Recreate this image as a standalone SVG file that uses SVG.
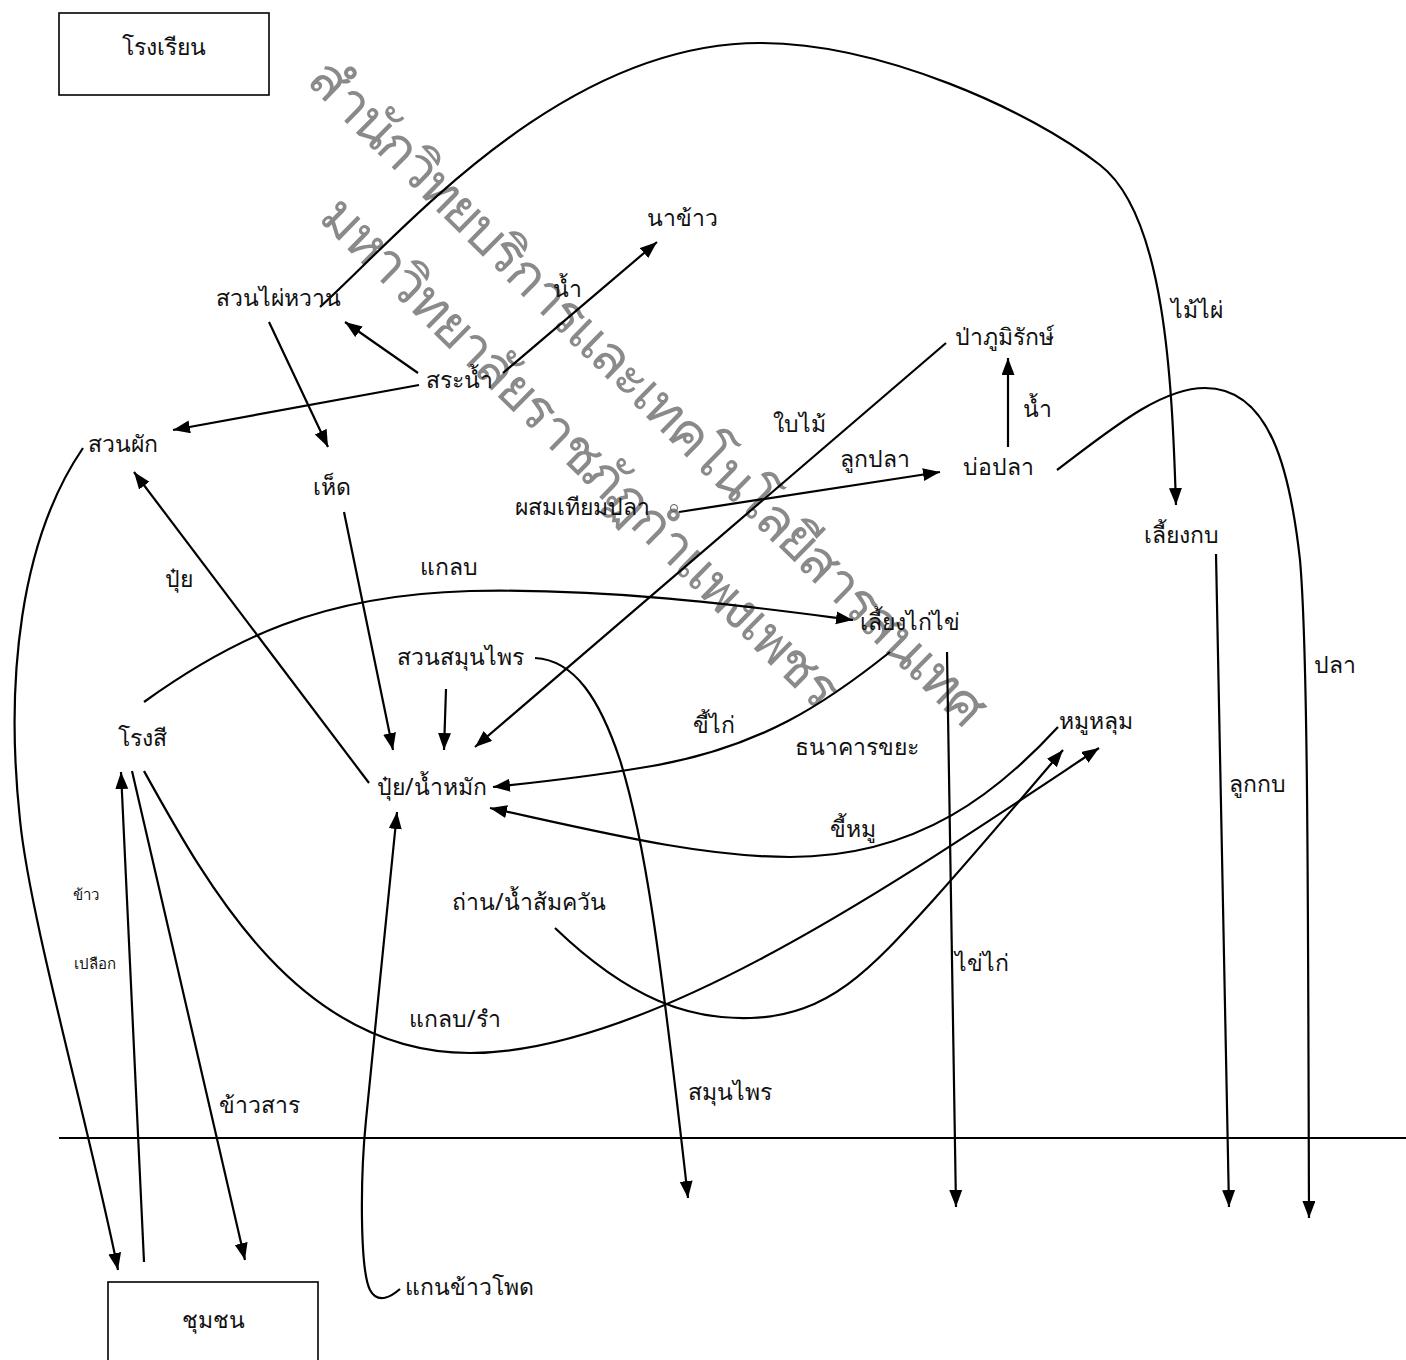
<svg xmlns="http://www.w3.org/2000/svg" width="1406" height="1360" viewBox="0 0 1406 1360">
<style>
.lbl{font-family:"Noto Sans","DejaVu Sans",sans-serif;font-size:23px;fill:#111}
.sm{font-size:15px}
.wm{font-family:"Noto Sans","DejaVu Sans",sans-serif;font-size:55px;fill:#8a8a8a}
.c{fill:none;stroke:#000;stroke-width:2.2}
.box{fill:#fff;stroke:#000;stroke-width:1.6}
</style>
<defs>
<marker id="ah" markerWidth="18" markerHeight="14" refX="17" refY="6.5" orient="auto" markerUnits="userSpaceOnUse">
<path d="M0,0 L17,6.5 L0,13 z" fill="#000"/>
</marker>
</defs>
<rect width="1406" height="1360" fill="#fff"/>

<g id="watermark">
<text class="wm" x="303" y="80" transform="rotate(44.5 303 80)" textLength="925">สำนักวิทยบริการและเทคโนโลยีสารสนเทศ</text>
<text class="wm" x="317" y="219" transform="rotate(44.5 317 219)" textLength="703">มหาวิทยาลัยราชภัฏกำแพงเพชร</text>
</g>

<line x1="59" y1="1138" x2="1406" y2="1138" stroke="#000" stroke-width="2"/>

<g id="connectors">
<path class="c" marker-end="url(#ah)" d="M320,307 C400,235 560,43 760,43 C880,43 1030,110 1100,165 C1165,215 1172,380 1176,505"/>
<path class="c" marker-end="url(#ah)" d="M418,373 L345,322"/>
<path class="c" marker-end="url(#ah)" d="M419,385 L173,430"/>
<path class="c" marker-end="url(#ah)" d="M503,373 L657,242"/>
<path class="c" marker-end="url(#ah)" d="M269,322 L328,447"/>
<path class="c" marker-end="url(#ah)" d="M83,448 C20,540 5,680 20,820 C30,920 90,1130 118,1270"/>
<path class="c" marker-end="url(#ah)" d="M369,783 L134,472"/>
<path class="c" marker-end="url(#ah)" d="M344,512 L393,750"/>
<path class="c" marker-end="url(#ah)" d="M446,689 L444,750"/>
<path class="c" marker-end="url(#ah)" d="M946,343 L475,747"/>
<path class="c" marker-end="url(#ah)" d="M679,512 L940,472"/>
<path class="c" marker-end="url(#ah)" d="M1008,447 L1008,358"/>
<path class="c" marker-end="url(#ah)" d="M1057,470 C1110,430 1160,388 1205,388 C1270,388 1290,470 1300,560 C1308,650 1308,900 1309,1218"/>
<path class="c" marker-end="url(#ah)" d="M1216,554 L1229,1207"/>
<path class="c" marker-end="url(#ah)" d="M947,652 L956,1207"/>
<path class="c" marker-end="url(#ah)" d="M144,702 C230,640 320,595 470,591 C620,588 760,608 853,620"/>
<path class="c" marker-end="url(#ah)" d="M535,658 C575,660 600,700 620,760 C645,840 660,950 688,1198"/>
<path class="c" marker-end="url(#ah)" d="M555,928 C630,1000 690,1020 751,1018 C830,1015 870,970 936,897 C980,848 1020,800 1063,750"/>
<path class="c" marker-end="url(#ah)" d="M1058,727 C1000,790 920,857 790,857 C700,857 600,832 490,808"/>
<path class="c" marker-end="url(#ah)" d="M890,652 C830,700 760,750 640,768 C580,778 540,782 493,787"/>
<path class="c" marker-end="url(#ah)" d="M144,771 C210,890 300,1053 470,1053 C650,1053 900,880 1099,748"/>
<path class="c" marker-end="url(#ah)" d="M144,1262 L121,772"/>
<path class="c" marker-end="url(#ah)" d="M132,771 L245,1260"/>
<path class="c" marker-end="url(#ah)" d="M400,1289 C392,1296 378,1305 370,1290 C360,1270 360,1180 366,1120 C375,1030 390,880 397,812"/>
</g>

<g id="n-school"><rect class="box" x="59" y="13" width="210" height="82"/><text class="lbl" x="164" y="55" text-anchor="middle">โรงเรียน</text></g>
<g id="n-community"><rect class="box" x="108" y="1282" width="210" height="90"/><text class="lbl" x="213" y="1328" text-anchor="middle">ชุมชน</text></g>
<g id="n-bamboo"><text class="lbl" x="216" y="306">สวนไผ่หวาน</text></g>
<g id="n-pond"><text class="lbl" x="426" y="388">สระน้ำ</text></g>
<g id="n-rice"><text class="lbl" x="647" y="226">นาข้าว</text></g>
<g id="n-veg"><text class="lbl" x="88" y="452">สวนผัก</text></g>
<g id="n-mush"><text class="lbl" x="313" y="495">เห็ด</text></g>
<g id="n-forest"><text class="lbl" x="955" y="345">ป่าภูมิรักษ์</text></g>
<g id="n-fishpond"><text class="lbl" x="963" y="475">บ่อปลา</text></g>
<g id="n-fishbreed"><text class="lbl" x="515" y="515">ผสมเทียมปลา</text><circle cx="674" cy="508" r="3.5" fill="none" stroke="#555" stroke-width="1"/></g>
<g id="n-frog"><text class="lbl" x="1144" y="543">เลี้ยงกบ</text></g>
<g id="n-chicken"><text class="lbl" x="860" y="630">เลี้ยงไก่ไข่</text></g>
<g id="n-herb"><text class="lbl" x="397" y="665">สวนสมุนไพร</text></g>
<g id="n-mill"><text class="lbl" x="118" y="746">โรงสี</text></g>
<g id="n-bank"><text class="lbl" x="795" y="755">ธนาคารขยะ</text></g>
<g id="n-pig"><text class="lbl" x="1059" y="729">หมูหลุม</text></g>
<g id="n-compost"><text class="lbl" x="377" y="795">ปุ๋ย/น้ำหมัก</text></g>
<g id="n-charcoal"><text class="lbl" x="452" y="910">ถ่าน/น้ำส้มควัน</text></g>
<g id="n-corn"><text class="lbl" x="405" y="1295">แกนข้าวโพด</text></g>

<g id="labels">
<text class="lbl" x="553" y="297">น้ำ</text>
<text class="lbl" x="773" y="432">ใบไม้</text>
<text class="lbl" x="1023" y="417">น้ำ</text>
<text class="lbl" x="840" y="467">ลูกปลา</text>
<text class="lbl" x="1171" y="318">ไม้ไผ่</text>
<text class="lbl" x="420" y="575">แกลบ</text>
<text class="lbl" x="165" y="587">ปุ๋ย</text>
<text class="lbl" x="1314" y="673">ปลา</text>
<text class="lbl" x="693" y="733">ขี้ไก่</text>
<text class="lbl" x="1229" y="792">ลูกกบ</text>
<text class="lbl" x="830" y="837">ขี้หมู</text>
<text class="lbl sm" x="73" y="900">ข้าว</text>
<text class="lbl sm" x="74" y="969">เปลือก</text>
<text class="lbl" x="955" y="971">ไข่ไก่</text>
<text class="lbl" x="409" y="1027">แกลบ/รำ</text>
<text class="lbl" x="688" y="1100">สมุนไพร</text>
<text class="lbl" x="219" y="1113">ข้าวสาร</text>
</g>
</svg>
